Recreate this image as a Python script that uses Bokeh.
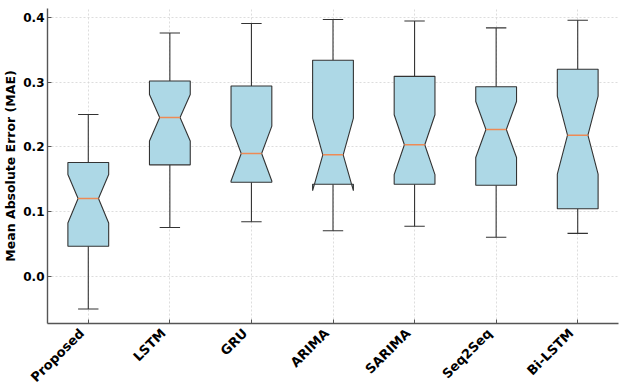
from bokeh.plotting import figure
from bokeh.models import FixedTicker, PrintfTickFormatter, Range1d
from bokeh.embed import file_html
from bokeh.resources import INLINE
import math

models = ["Proposed", "LSTM", "GRU", "ARIMA", "SARIMA", "Seq2Seq", "Bi-LSTM"]
positions = [1, 2, 3, 4, 5, 6, 7]
whisker_low = [-0.051, 0.075, 0.084, 0.070, 0.077, 0.060, 0.066]
q1 = [0.046, 0.172, 0.145, 0.142, 0.142, 0.1405, 0.104]
notch_low = [0.082, 0.209, 0.147, 0.132, 0.157, 0.1834, 0.1576]
median = [0.120, 0.2454, 0.1896, 0.1876, 0.2031, 0.2268, 0.218]
notch_high = [0.157, 0.281, 0.232, 0.2444, 0.2496, 0.270, 0.2785]
q3 = [0.1757, 0.3017, 0.294, 0.334, 0.309, 0.293, 0.320]
whisker_high = [0.250, 0.376, 0.3907, 0.397, 0.3947, 0.384, 0.3958]
y_ticks = [0.0, 0.1, 0.2, 0.3, 0.4]

half_w = 0.25
cap_half = 0.125

p = figure(frame_width=571, frame_height=315, output_backend="svg", toolbar_location=None,
           x_range=Range1d(0.5, 7.5), y_range=Range1d(-0.0735, 0.414),
           min_border_left=0, min_border_right=5, min_border_top=8, min_border_bottom=0)
p.outline_line_color = None
p.background_fill_color = "white"

# grid
for g in (p.xgrid, p.ygrid):
    g.grid_line_color = "#d4d4d4"
    g.grid_line_dash = "2 2"
    g.grid_line_width = 0.8

# whiskers
p.segment(x0=positions, y0=q3, x1=positions, y1=whisker_high, line_color="#333333", line_width=1.1)
p.segment(x0=positions, y0=q1, x1=positions, y1=whisker_low, line_color="#333333", line_width=1.1)
p.segment(x0=[x - cap_half for x in positions], y0=whisker_high,
          x1=[x + cap_half for x in positions], y1=whisker_high, line_color="#333333", line_width=1.1)
p.segment(x0=[x - cap_half for x in positions], y0=whisker_low,
          x1=[x + cap_half for x in positions], y1=whisker_low, line_color="#333333", line_width=1.1)

# notched boxes
xs, ys = [], []
for x, a, nl, m, nh, b in zip(positions, q1, notch_low, median, notch_high, q3):
    xs.append([x - half_w, x + half_w, x + half_w, x + half_w * 0.5, x + half_w, x + half_w,
               x - half_w, x - half_w, x - half_w * 0.5, x - half_w])
    ys.append([a, a, nl, m, nh, b, b, nh, m, nl])
p.patches(xs, ys, fill_color="#ADD8E6", line_color="#333333", line_width=1.1)

# medians
p.segment(x0=[x - half_w * 0.5 for x in positions], y0=median,
          x1=[x + half_w * 0.5 for x in positions], y1=median, line_color="#ee8a55", line_width=1.5)

# axes
p.xaxis.ticker = FixedTicker(ticks=positions)
p.xaxis.major_label_overrides = {pos: name + "\u00a0\u00a0" for pos, name in zip(positions, models)}
p.xaxis.major_label_orientation = math.pi / 4
p.yaxis.ticker = FixedTicker(ticks=y_ticks)
p.yaxis.formatter = PrintfTickFormatter(format="%.1f")
p.yaxis.axis_label = "Mean Absolute Error (MAE)"

for ax in (p.xaxis[0], p.yaxis[0]):
    ax.axis_line_color = "#555555"
    ax.axis_line_width = 1.4
    ax.major_tick_in = 4
    ax.major_tick_out = 0
    ax.major_tick_line_color = "#555555"
    ax.minor_tick_line_color = None
    ax.major_label_text_font = "DejaVu Sans"
    ax.major_label_text_font_style = "bold"
    ax.major_label_text_color = "black"

p.xaxis.major_label_text_font_size = "13px"
p.yaxis.major_label_text_font_size = "12px"
p.xaxis.major_label_standoff = 1
p.yaxis.major_label_standoff = 3
p.yaxis.axis_label_text_font = "DejaVu Sans"
p.yaxis.axis_label_text_font_style = "bold"
p.yaxis.axis_label_text_font_size = "12.5px"
p.yaxis.axis_label_text_color = "black"
p.yaxis.axis_label_standoff = 2

open("out.html", "w").write(file_html(p, INLINE))
